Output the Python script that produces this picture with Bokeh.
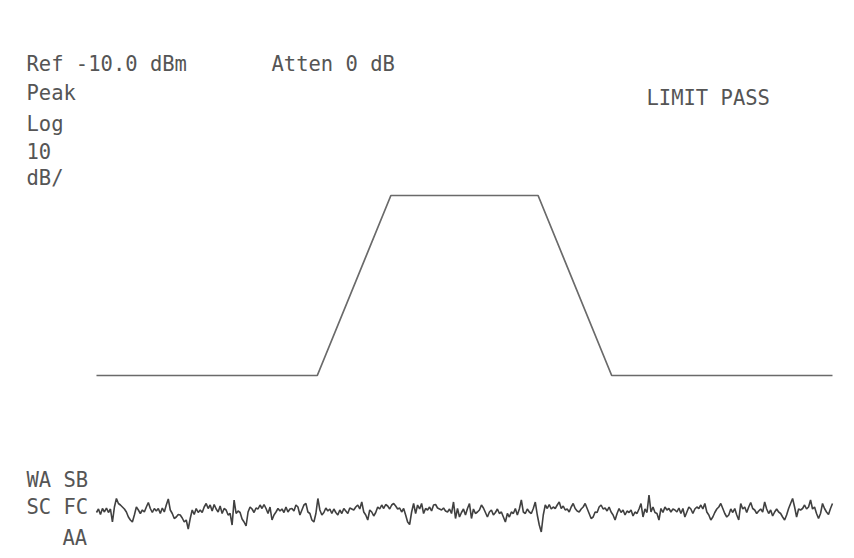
from bokeh.plotting import figure
from bokeh.models import Range1d, Label
from bokeh.embed import file_html
from bokeh.resources import INLINE
import numpy as np

# Frequency offsets from centre (MHz) of the limit-line vertices and their levels (dBm)
limit_freq = [-50, -20, -10, 10, 20, 50]
limit_level = [-77, -77, -41, -41, -77, -77]

# Span covered by the measured trace (MHz offset from centre)
span_start, span_stop = -50, 50

# Measured trace (dBm), sampled evenly across the span
trace_dbm = [
    -104.4, -103.7, -104.8, -103.6, -104.3, -103.5, -104.4, -103.7, -106.3, -103.3,
    -101.6, -102.6, -102.9, -103.3, -103.7, -104.3, -105.3, -105.9, -106.3, -104.9,
    -103.3, -103.9, -104.6, -103.9, -104.3, -103.3, -102.4, -103.6, -104.4, -103.6,
    -104.1, -103.6, -104.6, -103.5, -104.3, -102.9, -101.7, -103.9, -104.6, -105.6,
    -105.3, -104.8, -104.9, -105.5, -106.3, -105.9, -107.7, -105.6, -103.9, -104.8,
    -103.6, -104.4, -103.9, -104.4, -103.3, -102.6, -103.6, -102.9, -104.1, -102.8,
    -103.7, -104.3, -103.1, -104.6, -103.6, -103.9, -104.9, -104.6, -106.9, -101.9,
    -104.6, -104.1, -104.4,
    -105.7, -106.3, -107.1, -104.3, -103.3, -103.7, -104.4, -103.5, -103.7, -102.9,
    -103.6, -102.8, -103.6, -104.6, -103.3, -105.9, -104.9, -104.3, -103.6, -104.1,
    -103.7, -104.4, -103.3, -104.3, -103.7, -103.6, -104.1, -102.9, -103.3, -104.9,
    -103.9, -102.9, -102.6, -104.3, -104.6, -105.9, -106.3, -104.6, -101.6, -103.9,
    -104.9, -104.4, -103.5, -104.1, -103.7, -104.6, -103.7, -104.4, -104.9, -103.9,
    -104.6, -103.6, -104.1, -104.6, -103.5, -103.7, -103.9, -103.3, -102.9, -103.7,
    -102.3, -104.3, -104.9, -105.9, -103.9, -104.3, -105.1, -104.4, -103.3, -103.7,
    -102.9, -103.6,
    -102.8, -103.1, -103.7, -102.9, -102.6, -103.1, -103.7, -103.5, -104.3, -103.6,
    -104.9, -106.3, -106.8, -104.3, -102.6, -104.6, -102.9, -103.7, -102.6, -104.6,
    -103.6, -103.9, -103.3, -104.1, -102.9, -102.8, -103.5, -103.7, -103.9, -103.5,
    -104.1, -104.3, -103.7, -104.6, -102.3, -105.6, -103.6, -105.3, -104.4, -103.7,
    -104.9, -103.6, -102.6, -105.6, -103.7, -104.6, -104.3, -103.9, -102.9, -103.5,
    -104.4, -105.3, -104.3, -103.9, -104.9, -104.4, -103.7, -104.6, -104.3, -105.3,
    -106.3, -104.6, -105.3, -104.3, -104.6, -103.6, -104.9, -103.7, -101.9, -104.3,
    -104.6, -103.7, -104.3,
    -104.6, -103.6, -102.3, -104.9, -106.9, -108.3, -104.9, -102.9, -103.6, -102.8,
    -103.7, -103.3, -103.6, -102.9, -102.3, -103.6, -103.1, -103.9, -103.7, -104.3,
    -103.3, -102.6, -103.6, -104.1, -104.3, -103.7, -103.3, -102.6, -103.6, -104.6,
    -105.6, -105.3, -104.3, -104.4, -103.3, -102.9, -103.7, -103.5, -104.1, -103.3,
    -104.3, -104.9, -105.9, -104.6, -103.6, -104.4, -103.9, -104.9, -104.1, -104.4,
    -103.9, -105.1, -104.3, -104.6, -103.7, -102.6, -105.3, -103.7, -104.4, -100.9,
    -104.3, -103.3, -104.4, -104.6, -105.9, -103.6, -104.4, -103.3, -103.9, -103.6,
    -104.3, -103.7, -103.9,
    -104.3, -103.5, -104.6, -103.6, -105.3, -104.3, -103.3, -103.7, -104.6, -103.7,
    -103.3, -103.6, -102.9, -103.7, -102.6, -104.3, -104.9, -105.9, -105.3, -104.4,
    -103.7, -103.3, -102.6, -103.6, -104.6, -105.3, -104.9, -103.7, -104.4, -103.6,
    -104.9, -105.9, -102.6, -103.7, -103.3, -104.4, -103.3, -102.4, -103.6, -103.9,
    -104.6, -104.1, -103.7, -104.3, -102.3, -103.7, -104.6, -103.9, -105.1, -104.3,
    -103.7, -104.3, -104.6, -105.3, -105.9, -104.9, -103.6, -102.6, -101.6, -103.3,
    -105.3, -103.7, -103.9, -103.6, -102.9, -103.7, -103.3, -101.9, -103.7, -103.3,
    -104.6, -105.6, -104.6, -102.6, -103.6, -104.3, -104.8, -103.6, -102.6,
]

# Annotation texts
header_lines = ["Ref -10.0 dBm", "Peak", "Log", "10", "dB/"]
atten_text = "Atten 0 dB"
limit_text = "LIMIT PASS"
status_lines = ["WA SB", "SC FC", "AA"]

W, H = 854, 558
FONT = "DejaVu Sans Mono"
FONT_SIZE = "20.5px"
TEXT_COLOR = "#555555"

p = figure(width=W, height=H, output_backend="svg", toolbar_location=None,
           x_range=Range1d(-63.04, 52.99), y_range=Range1d(-113.6, -2.0),
           min_border=0, background_fill_color="white", border_fill_color="white")
p.axis.visible = False
p.grid.visible = False
p.outline_line_color = None

# Limit line
p.line(limit_freq, limit_level, line_color="#6a6a6a", line_width=1.7)

# Swept trace
trace_freq = np.linspace(span_start, span_stop, len(trace_dbm))
p.line(trace_freq, trace_dbm, line_color="#404040", line_width=1.6)


def add_text(txt, x_px, baseline_px):
    p.add_layout(Label(x=x_px, y=H - baseline_px, x_units="screen", y_units="screen",
                       text=txt, text_font=FONT, text_font_size=FONT_SIZE,
                       text_color=TEXT_COLOR, text_baseline="alphabetic"))


header_baselines = [63, 92, 123, 150, 177]
for txt, b in zip(header_lines, header_baselines):
    add_text(txt, 26, b)
add_text(atten_text, 271, 63)
add_text(limit_text, 646, 97)

add_text(status_lines[0], 26, 479)
add_text(status_lines[1], 26, 506)
add_text(status_lines[2], 62, 537)

open("out.html", "w").write(file_html(p, INLINE))
